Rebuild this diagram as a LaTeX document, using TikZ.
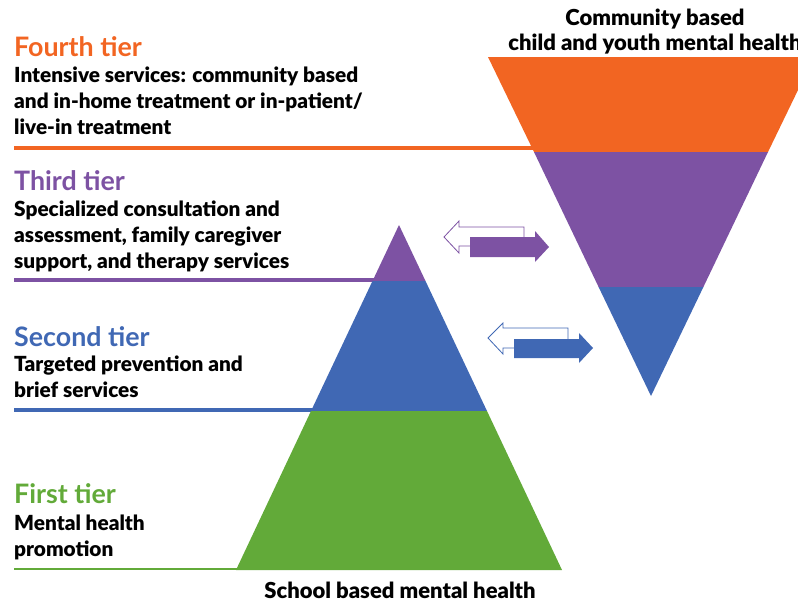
\documentclass[tikz,border=0pt]{standalone}
\usepackage{fontspec}
\setmainfont{Lato}
\newfontfamily\heavy{Lato Black}
\definecolor{corange}{HTML}{F26522}
\definecolor{cpurple}{HTML}{7D52A3}
\definecolor{cblue}{HTML}{4068B4}
\definecolor{cgreen}{HTML}{62AA39}
\tikzset{
  title/.style={anchor=base west, inner sep=0pt, font=\fontsize{26.8}{28}\selectfont\bfseries},
  body/.style={anchor=base west, inner sep=0pt, font=\fontsize{20.8}{26}\selectfont\heavy, text=black},
  head/.style={anchor=base, inner sep=0pt, font=\fontsize{22}{26}\selectfont\heavy, text=black},
  tierline/.style={line width=4pt},
}
\begin{document}
\begin{tikzpicture}[x=1pt,y=-1pt]
\useasboundingbox (0,0) rectangle (798,603);
\clip (0,0) rectangle (798,603);
% tier lines
\draw[tierline, corange] (14,148) -- (540,148);
\draw[tierline, cpurple] (14,280) -- (380,280);
\draw[tierline, cblue] (14,410) -- (320,410);
\draw[line width=2.5pt, cgreen] (14,569) -- (245,569);
% inverted pyramid (apex 651,396)
\fill[corange] (488,57) -- (814,57) -- (768,152) -- (534,152) -- cycle;
\fill[cpurple] (534,152) -- (768,152) -- (703.4,287) -- (598.6,287) -- cycle;
\fill[cblue] (598.6,287) -- (703.4,287) -- (651,396) -- cycle;
% upright pyramid (apex 399,225)
\fill[cpurple] (399,225) -- (425.5,281) -- (372.5,281) -- cycle;
\fill[cblue] (372.5,281) -- (425.5,281) -- (487,411) -- (311,411) -- cycle;
\fill[cgreen] (311,411) -- (487,411) -- (562,570) -- (236,570) -- cycle;
% purple arrows
\draw[cpurple, line width=0.8pt, fill=white] (444,237) -- (459,221) -- (459,227) -- (524,227) -- (524,246) -- (459,246) -- (459,253) -- cycle;
\fill[cpurple] (470,237) -- (535,237) -- (535,231) -- (549,247) -- (535,262) -- (535,257) -- (470,257) -- cycle;
% blue arrows
\draw[cblue, line width=0.8pt, fill=white] (488,338) -- (503,323) -- (503,328) -- (568,328) -- (568,348) -- (503,348) -- (503,354) -- cycle;
\fill[cblue] (514,339) -- (579,339) -- (579,333) -- (593,348) -- (579,363) -- (579,358) -- (514,358) -- cycle;
% texts
\node[head] (c1) at (655,25) {Community based};
\node[head] (c2) at (655,50) {child and youth mental health};
\node[title, text=corange] (t4) at (14,56) {Fourth tier};
\node[body] (t4a) at (14,82) {Intensive services: community based};
\node[body] (t4b) at (14,108) {and in-home treatment or in-patient/};
\node[body] (t4c) at (14,134) {live-in treatment};
\node[title, text=cpurple] (t3) at (14,190) {Third tier};
\node[body] (t3a) at (14,216) {Specialized consultation and};
\node[body] (t3b) at (14,242) {assessment, family caregiver};
\node[body] (t3c) at (14,268) {support, and therapy services};
\node[title, text=cblue] (t2) at (14,346) {Second tier};
\node[body] (t2a) at (14,371) {Targeted prevention and};
\node[body] (t2b) at (14,397) {brief services};
\node[title, text=cgreen] (t1) at (14,503) {First tier};
\node[body] (t1a) at (14,530) {Mental health};
\node[body] (t1b) at (14,556) {promotion};
\node[head] (s1) at (400,598) {School based mental health};
\end{tikzpicture}
\end{document}
